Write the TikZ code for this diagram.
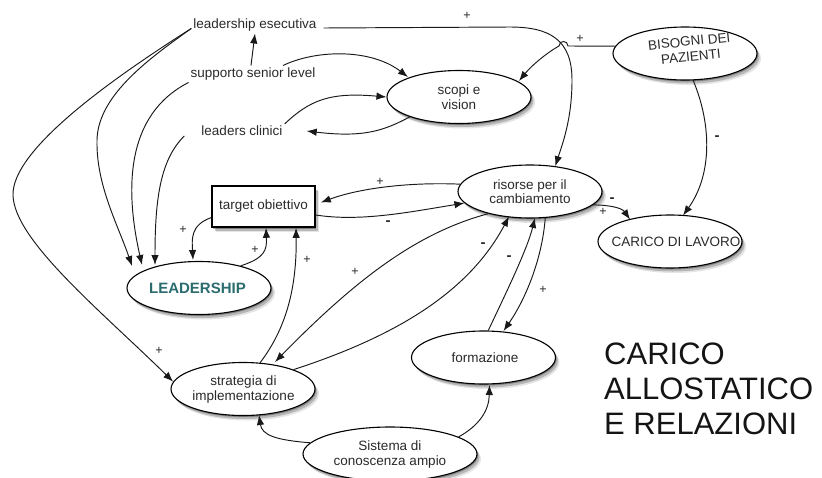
\documentclass[tikz,border=0pt]{standalone}
\usepackage{fontspec}
\setmainfont{Liberation Sans}
\usetikzlibrary{shapes.geometric,arrows.meta,shadows}

\definecolor{ink}{HTML}{2A2A2A}
\definecolor{leadteal}{HTML}{2B6C6E}

\tikzset{
  softshadow/.style={
    drop shadow={shadow xshift=1pt,shadow yshift=-1.5pt,opacity=.3,fill=black},
    drop shadow={shadow xshift=2.5pt,shadow yshift=-3.5pt,opacity=.2,fill=black},
    drop shadow={shadow xshift=4pt,shadow yshift=-5pt,opacity=.1,fill=black}},
  lbl/.style={font=\fontsize{13.5}{14.5}\selectfont,text=ink,inner sep=2pt},
  bubble/.style={ellipse,draw=black,line width=1.1pt,fill=white,
    minimum width=144pt,minimum height=53pt,inner sep=0pt,softshadow},
  btxt/.style={font=\fontsize{13.5}{14.5}\selectfont,text=ink,align=center,inner sep=0pt},
  targbox/.style={rectangle,draw=black,line width=1.6pt,fill=white,
    minimum width=103pt,minimum height=41pt,inner sep=0pt,
    font=\fontsize{13.5}{14.5}\selectfont,text=ink,softshadow},
  link/.style={line width=0.95pt,draw=black!90,-{Latex[length=10pt,width=7.5pt]}},
  sign/.style={font=\fontsize{12.5}{12.5}\selectfont,text=ink,inner sep=0pt},
  neg/.style={font=\bfseries\fontsize{15}{15}\selectfont,text=ink,inner sep=0pt},
  title/.style={font=\fontsize{31}{35}\selectfont,text=black!92,align=left,inner sep=0pt,anchor=north west}
}

\begin{document}
\begin{tikzpicture}[x=1pt,y=-1pt]
\useasboundingbox (0,0) rectangle (822,477);

% plain text actors
\node[lbl] (lexe) at (255,25) {leadership esecutiva};
\node[lbl] (supp) at (253,74) {supporto senior level};
\node[lbl] (lcli) at (242,131) {leaders clinici};

% ellipses with their captions
\node[bubble] (scopi) at (459,97) {};
\node[btxt] (scopit) at (459,97) {scopi e\\vision};
\node[bubble] (bis) at (685,53.5) {};
\node[btxt,rotate=6,font=\fontsize{13.5}{15.5}\selectfont] (bist) at (690,49) {BISOGNI DEI\\PAZIENTI};
\node[bubble] (riso) at (530,191.5) {};
\node[btxt] (risot) at (530,191.5) {risorse per il\\cambiamento};
\node[bubble] (car) at (670,241.5) {};
\node[btxt] (cart) at (676,242) {CARICO DI LAVORO};
\node[bubble] (LS) at (199,288) {};
\node[btxt,font=\bfseries\fontsize{15}{16}\selectfont,text=leadteal] (LSt) at (197.5,288) {LEADERSHIP};
\node[bubble] (strat) at (243,389) {};
\node[btxt] (stratt) at (243.5,389.5) {strategia di\\implementazione};
\node[bubble] (form) at (483.5,357.5) {};
\node[btxt] (formt) at (485,358) {formazione};
\node[bubble,minimum width=174pt,minimum height=54pt] (sist) at (390,454) {};
\node[btxt] (sistt) at (390,454.5) {Sistema di\\conoscenza ampio};

% target box
\node[targbox] (targ) at (263.5,206.5) {target obiettivo};

% title
\node[title] (ttl) at (604,343) {CARICO\\ALLOSTATICO\\E RELAZIONI};

% connectors
\draw[link] ([shift={(5,3)}]lexe.east) -- (510,27) .. controls (550,27) and (572,40) .. (572,80)
  .. controls (572,120) and (562,145) .. (riso.45);
\draw[link] ([xshift=-2pt]supp.north) -- (lexe.south);
\draw[link] ([xshift=30pt]supp.north) .. controls (315,50) and (370,48) .. ([shift={(-51,-20)}]scopi.center);
\draw[link] (lcli.north east) .. controls (310,100) and (330,92) .. (scopi.west);
\draw[link] (scopi.202) .. controls (385,130) and (365,138) .. ([xshift=22pt]lcli.east);

\draw[link] (lexe.base west) .. controls (150,58) and (98,95) .. (97,140)
  .. controls (96,185) and (118,225) .. ([shift={(-67,-22)}]LS.center);
\draw[link] (lexe.base west) .. controls (110,80) and (12,150) .. (13,195)
  .. controls (14,240) and (100,310) .. (strat.174);
\draw[link] (supp.south west) .. controls (125,115) and (125,190) .. ([shift={(-57,-23)}]LS.center);
\draw[link] ([shift={(-15,5)}]lcli.west) .. controls (160,160) and (155,200) .. ([shift={(-44,-23)}]LS.center);

\draw[link] (targ.192) .. controls (190,225) and (192,240) .. ([shift={(-6,-28)}]LS.center);
\draw[link] (LS.28) .. controls (265,258) and (267,250) .. ([xshift=2.5pt]targ.south);
\draw[link] (strat.57) .. controls (285,330) and (297,290) .. ([xshift=32.5pt]targ.south);
\draw[link] (riso.174) .. controls (410,182) and (360,188) .. ([shift={(5,-4)}]targ.east);
\draw[link] ([yshift=-8.5pt]targ.east) .. controls (360,222) and (410,212) .. (riso.190);

\draw[link] (riso.208) .. controls (420,232) and (360,275) .. ([shift={(32,-27)}]strat.center);
\draw[link] (strat.21) .. controls (400,335) and (470,290) .. ([shift={(-21,25)}]riso.center);
\draw[link] (form.80) .. controls (505,295) and (527,250) .. ([shift={(5,26.5)}]riso.center);
\draw[link] (riso.300) .. controls (542,260) and (525,300) .. ([shift={(20,-26.5)}]form.center);

\draw[link] (sist.172) .. controls (275,440) and (262,435) .. ([shift={(16,26)}]strat.center);
\draw[link] (sist.14) .. controls (480,425) and (489,410) .. ([shift={(6,27.5)}]form.center);

\draw[link] ([shift={(8,26.5)}]bis.center) .. controls (712,125) and (712,175) .. ([shift={(13,-26)}]car.center);
\draw[link] (riso.348) .. controls (610,205) and (622,208) .. ([shift={(-40,-22)}]car.center);
\draw[link] (bis.174) -- (568,46) .. controls (568,40) and (559,40) .. (559,46)
  .. controls (548,52) and (532,65) .. ([shift={(60,-16)}]scopi.center);

% polarity signs
\node[sign] (p1) at (467,16) {+};
\node[sign] (p2) at (580,39) {+};
\node[neg]  (m1) at (717,138) {-};
\node[sign] (p3) at (380,182) {+};
\node[neg]  (m2) at (388,223) {-};
\node[sign] (p4) at (183,230) {+};
\node[sign] (p5) at (255,250) {+};
\node[sign] (p6) at (307,260) {+};
\node[sign] (p7) at (355,272) {+};
\node[neg]  (m3) at (483,245) {-};
\node[neg]  (m4) at (509,258) {-};
\node[sign] (p8) at (543,290) {+};
\node[neg]  (m5) at (612,200) {-};
\node[sign] (p9) at (603,212) {+};
\node[sign] (p10) at (159,351) {+};
\end{tikzpicture}
\end{document}
